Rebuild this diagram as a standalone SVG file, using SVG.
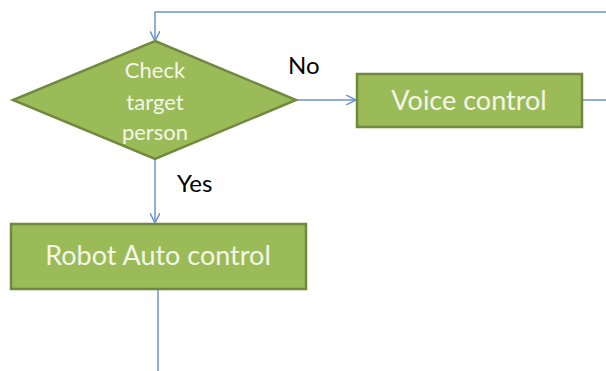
<svg xmlns="http://www.w3.org/2000/svg" width="606" height="371" viewBox="0 0 606 371">
<defs>
<style>
.node{fill:#9BBB59;stroke:#71893F;stroke-width:2.5}
.ntxt{font-family:Lato,"Open Sans","Liberation Sans",sans-serif;fill:#F4F6E8;text-anchor:middle}
.lbl{font-family:Lato,"Open Sans","Liberation Sans",sans-serif;fill:#000;font-size:24px}
.conn{fill:none;stroke:#6A93CC;stroke-width:1.5}
</style>
<marker id="arr" viewBox="0 0 10 10" refX="10" refY="5" markerWidth="10" markerHeight="10" markerUnits="userSpaceOnUse" orient="auto">
<path d="M0,0 L10,5 L0,10" fill="none" stroke="#6A93CC" stroke-width="1.5"/>
</marker>
</defs>
<rect width="606" height="371" fill="#fff"/>
<g id="connectors">
<path class="conn" d="M606,12 H155 V41" marker-end="url(#arr)"/>
<path class="conn" d="M296,100 H356" marker-end="url(#arr)"/>
<path class="conn" d="M582,100 H606"/>
<path class="conn" d="M155,159 V223" marker-end="url(#arr)"/>
<path class="conn" d="M158,289 V371"/>
</g>
<g id="check">
<polygon class="node" points="155,41 296,100 155,159 13,100"/>
<text class="ntxt" font-size="22" x="155" y="78">Check</text>
<text class="ntxt" font-size="22" x="155" y="110">target</text>
<text class="ntxt" font-size="22" x="155" y="140">person</text>
</g>
<g id="voice">
<rect class="node" x="357" y="74" width="225" height="53"/>
<text class="ntxt" font-size="27" x="469" y="110">Voice control</text>
</g>
<g id="robot">
<rect class="node" x="11" y="224" width="295" height="65"/>
<text class="ntxt" font-size="27" x="158" y="265">Robot Auto control</text>
</g>
<g id="labels">
<text class="lbl" x="288" y="74">No</text>
<text class="lbl" x="177" y="192">Yes</text>
</g>
</svg>
